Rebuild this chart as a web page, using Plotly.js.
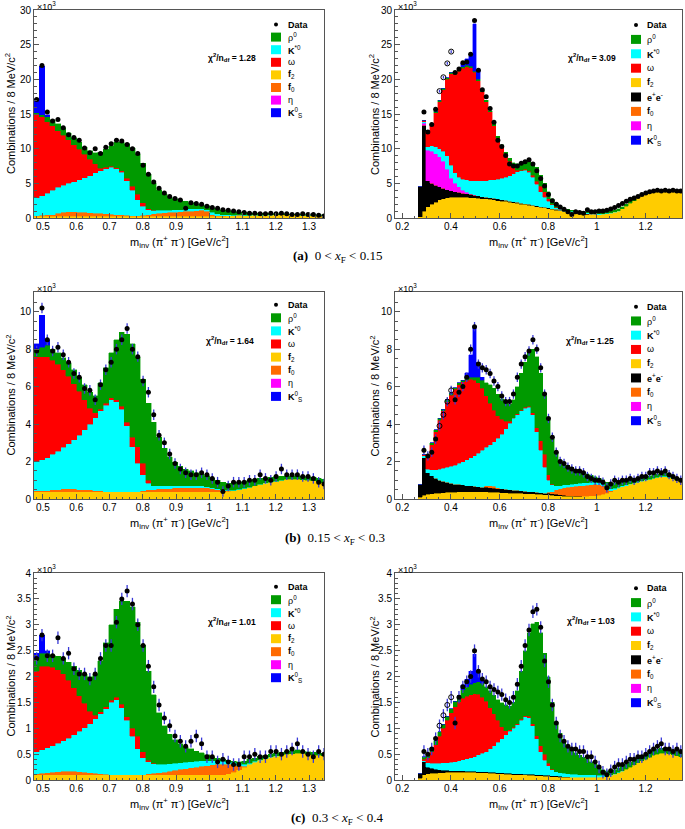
<!DOCTYPE html>
<html><head><meta charset="utf-8">
<script src="https://cdn.plot.ly/plotly-3.0.1.min.js"></script>
<style>html,body{margin:0;padding:0;background:#fff}</style>
</head><body><div id="chart" style="width:685px;height:829px"></div>
<script>
// ---------- binning (8 MeV histograms shown with 16 MeV sampling) ----------
const BIN = 0.016;
const X0_LEFT = 0.481, N_LEFT = 55;
const X0_RIGHT = 0.273, N_RIGHT = 68;
const R_OPEN_X = [0.353, 0.369, 0.385, 0.401];

// ---------- (a) 0 < xF < 0.15, left ----------
const aL_data = [17.1,22.0,15.3,14.0,14.2,13.0,12.0,11.6,11.2,10.1,9.4,10.0,9.3,10.2,10.7,11.2,11.1,10.6,10.0,9.3,7.6,6.3,5.2,4.3,3.6,3.1,2.8,2.6,1.4,2.2,2.1,2.0,1.7,1.5,1.4,1.2,1.1,1.0,0.9,0.8,0.7,0.7,0.6,0.6,0.7,0.6,0.7,0.6,0.5,0.5,0.6,0.5,0.5,0.4,0.3];
const aL_f2 = [0.25,0.25,0.25,0.25,0.25,0.25,0.25,0.25,0.25,0.25,0.25,0.25,0.25,0.25,0.25,0.25,0.25,0.25,0.25,0.25,0.25,0.25,0.25,0.25,0.25,0.25,0.25,0.25,0.25,0.25,0.25,0.25,0.25,0.25,0.25,0.25,0.3,0.3,0.35,0.35,0.38,0.4,0.4,0.42,0.42,0.44,0.44,0.44,0.44,0.44,0.42,0.42,0.4,0.4,0.38];
const aL_f0 = [0.1,0.15,0.2,0.25,0.45,0.6,0.65,0.65,0.6,0.55,0.5,0.45,0.4,0.35,0.3,0.25,0.2,0.15,0.1,0.1,0.15,0.25,0.35,0.45,0.5,0.55,0.6,0.65,0.7,0.75,0.8,0.85,0.75,0.25,0.1,0.05,0.03,0.02,0.02,0.01];
const aL_kstar = [2.55,2.8,3.15,3.5,3.7,3.85,4.1,4.3,4.65,5.0,5.35,5.8,6.15,6.5,6.75,6.6,6.15,5.0,3.65,2.25,1.3,0.7,0.5,0.4,0.35,0.35,0.35,0.3,0.3,0.3,0.25,0.2,0.2,0.3,0.25,0.2,0.12,0.1,0.08,0.06,0.05,0.04,0.03,0.03,0.02,0.02,0.02,0.02,0.01,0.01,0.01,0.01,0.01,0.01,0.01];
const aL_omega = [12.1,11.4,10.3,9.3,8.2,7.2,6.3,5.4,4.4,3.4,2.4,1.3,0.4,0.2,0.15,0.15,0.2,0.3,0.6,0.8,0.5,0.15,0.05];
const aL_rho = [0.2,0.3,0.7,0.9,1.0,1.1,1.0,1.0,1.0,1.0,1.2,1.6,2.3,2.6,2.95,3.65,4.2,5.0,5.5,5.8,5.7,5.05,3.95,3.0,2.4,1.95,1.6,1.4,1.15,0.9,0.7,0.6,0.55,0.7,0.7,0.65,0.6,0.53,0.4,0.38,0.32,0.26,0.22,0.2,0.21,0.14,0.14,0.14,0.1,0.1,0.12,0.07,0.09,0.09,0.06];
const aL_ks = [2.0,7.0,0.3];

// ---------- (a) right ----------
const aR_data = [null,15.3,12.4,13.5,15.7,null,null,null,null,21.0,21.5,22.4,22.5,23.6,28.5,21.3,18.5,17.5,15.8,13.8,11.2,10.3,9.0,7.8,7.5,7.5,7.9,8.1,8.4,7.8,6.8,5.7,4.6,3.4,2.5,2.0,1.6,1.25,0.9,0.5,0.9,0.8,0.7,1.2,0.9,0.9,1.0,1.0,1.1,1.3,1.5,1.8,2.1,2.4,2.7,2.9,3.1,3.4,3.6,3.8,3.9,4.0,3.9,4.0,3.9,4.0,3.9,3.9];
const aR_open = [18.3,20.3,22.3,24.0];
const aR_f2 = [0.2,1.0,1.6,2.0,2.3,2.6,2.8,2.9,3.0,3.0,3.0,3.0,3.0,2.95,2.9,2.85,2.8,2.75,2.7,2.6,2.5,2.45,2.4,2.3,2.2,2.1,2.0,1.95,1.85,1.75,1.65,1.55,1.45,1.35,1.25,1.15,1.05,0.95,0.85,0.75,0.65,0.6,0.55,0.5,0.5,0.5,0.5,0.55,0.6,0.7,0.85,1.0,1.3,1.7,2.1,2.5,2.9,3.2,3.5,3.7,3.9,4.0,4.0,3.9,3.9,3.9,3.9,3.9];
const aR_ee = [4.3,12.4,3.8,3.0,2.4,1.9,1.5,1.2,0.9,0.8,0.7,0.6,0.5,0.45,0.4,0.35,0.3,0.25,0.25,0.25,0.25,0.2,0.15,0.15,0.15,0.15,0.15,0.1,0.1,0.1,0.1,0.1,0.1,0.1,0.1,0.1,0.1,0.05,0.05,0.05,0.05,0.05,0.05,0.05];
const aR_f0 = [0,0,0,0,0,0,0,0,0,0,0,0,0,0,0,0,0,0,0,0,0,0,0,0,0,0,0,0,0,0,0,0,0,0,0,0,0,0,0.03,0.05,0.05,0.05,0.05,0.05,0.04,0.03];
const aR_eta = [0,0.3,4.4,4.6,4.6,4.3,3.9,2.9,1.8,1.2,0.8,0.4,0.2,0.1,0.05];
const aR_kstar = [0,0.2,0.5,0.8,1.0,1.2,1.4,2.0,1.9,1.5,1.4,1.6,1.8,1.9,2.05,2.2,2.3,2.4,2.55,2.65,2.85,3.05,3.35,3.65,4.05,4.45,4.65,4.85,4.65,4.05,3.15,2.15,1.45,0.95,0.55,0.25,0.1,0.1,0.1,0.1,0.1,0.15,0.15,0.15,0.15,0.1,0.1,0.05,0.05,0.05,0.05,0.05];
const aR_omega = [0,0.2,2.1,3.0,4.9,6.8,8.9,11.0,13.2,14.2,15.3,16.0,16.3,16.3,15.6,14.4,12.8,11.4,9.8,7.8,6.0,4.7,3.3,2.1,1.0,0.2,0.1,0.1,0.2,0.3,0.4,0.8,0.8,0.4,0.1,0.05,0.05];
const aR_rho = [0,0,0.2,0.2,0.2,0.2,0.2,0.2,0.2,0.2,0.2,0.2,0.2,0.2,0.2,0.2,0.2,0.2,0.2,0.2,0.2,0.2,0.3,0.4,0.6,0.9,1.0,1.1,1.4,1.8,2.0,1.6,1.2,1.0,0.8,0.65,0.4,0.3,0.2,0.15,0.1,0.1,0.1,0.15,0.15,0.2,0.2,0.25,0.25,0.25,0.25,0.25,0.3,0.3,0.3,0.3,0.2,0.2,0.1,0.1,0.1,0.1,0.1,0.1,0.1,0.1,0.1,0.1];
const aR_ks = [0,0,0,0,0,0,0,0,0,0,0,0.6,1.0,1.5,6.8,1.4,0.1];

// ---------- (b) 0.15 < xF < 0.3, left ----------
const bL_data = [7.9,10.2,8.5,7.9,8.1,7.7,7.3,6.7,6.5,5.9,5.8,5.3,6.1,6.9,7.3,8.0,8.5,9.1,8.0,7.6,6.3,5.7,4.5,3.4,3.0,2.4,1.9,1.6,1.4,1.3,1.3,1.4,1.3,1.1,0.9,0.4,0.7,0.9,0.9,0.9,1.0,1.0,1.3,1.1,1.0,1.2,1.6,1.3,1.3,1.3,1.2,1.2,1.1,0.9,0.8];
const bL_f2 = [0.4,0.4,0.4,0.4,0.4,0.4,0.4,0.4,0.4,0.4,0.4,0.4,0.4,0.4,0.4,0.4,0.4,0.4,0.4,0.4,0.4,0.4,0.4,0.4,0.4,0.4,0.4,0.4,0.4,0.4,0.4,0.4,0.4,0.4,0.4,0.4,0.42,0.45,0.5,0.55,0.62,0.7,0.78,0.85,0.9,0.95,1.0,1.05,1.05,1.05,1.03,1.0,0.97,0.92,0.88];
const bL_f0 = [0.05,0.05,0.05,0.1,0.1,0.15,0.15,0.15,0.1,0.1,0.1,0.05,0.05,0,0,0,0,0,0,0,0.05,0.1,0.1,0.15,0.15,0.15,0.2,0.2,0.2,0.2,0.2,0.2,0.2,0.15,0.1,0.05,0.02];
const bL_kstar = [1.55,1.65,1.75,1.9,2.05,2.2,2.4,2.6,2.9,3.2,3.5,3.9,4.25,4.6,4.9,4.8,4.4,3.5,2.4,1.5,0.85,0.35,0.2,0.15,0.15,0.15,0.1,0.1,0.1,0.1,0.1,0.1,0.05,0.05,0.05,0.05,0.03,0.03,0.02,0.02,0.02,0.02,0.01,0.01,0.01,0.01,0.01];
const bL_omega = [5.6,5.5,5.4,5.0,4.65,4.15,3.6,3.0,2.35,1.6,0.85,0.25,0.1,0.1,0.1,0.1,0.15,0.2,0.5,0.9,0.6,0.15,0.02];
const bL_rho = [0.4,0.5,0.6,0.6,0.6,0.65,0.7,0.75,0.75,0.8,0.85,0.9,1.4,1.9,2.4,3.2,3.95,4.7,5.0,4.8,4.5,4.1,3.38,2.6,2.0,1.55,1.25,1.05,0.9,0.8,0.7,0.65,0.6,0.5,0.45,0.4,0.38,0.37,0.38,0.38,0.36,0.33,0.31,0.26,0.24,0.24,0.21,0.2,0.2,0.2,0.19,0.2,0.18,0.18,0.17];
const bL_ks = [0.3,1.7,0.3];

// ---------- (b) right ----------
const bR_data = [null,2.6,2.3,2.5,3.2,null,null,null,null,5.3,5.7,6.0,6.5,8.0,9.2,7.2,7.0,6.9,6.7,6.3,6.0,5.5,5.2,5.2,5.6,6.5,7.2,7.6,7.9,8.5,8.0,7.0,5.6,4.3,3.3,2.5,2.0,1.9,1.7,1.6,1.5,1.5,1.4,1.2,1.1,1.0,1.0,0.9,0.6,0.8,1.0,0.9,1.0,1.0,1.1,1.0,1.1,1.2,1.2,1.4,1.4,1.5,1.4,1.5,1.3,1.2,1.1,1.0];
const bR_open = [3.9,4.5,5.2,5.8];
const bR_f2 = [0.1,0.2,0.25,0.28,0.3,0.32,0.33,0.35,0.35,0.37,0.38,0.4,0.4,0.4,0.4,0.4,0.4,0.38,0.37,0.36,0.35,0.34,0.33,0.32,0.31,0.3,0.3,0.29,0.28,0.27,0.26,0.25,0.24,0.22,0.2,0.18,0.17,0.16,0.15,0.15,0.15,0.15,0.15,0.16,0.17,0.18,0.2,0.25,0.32,0.4,0.5,0.58,0.65,0.72,0.78,0.84,0.9,0.95,1.0,1.05,1.1,1.15,1.2,1.2,1.15,1.08,1.0,0.92];
const bR_ee = [0.7,2.0,1.15,0.97,0.8,0.68,0.62,0.55,0.5,0.43,0.4,0.35,0.32,0.3,0.28,0.26,0.24,0.24,0.23,0.22,0.21,0.2,0.19,0.18,0.17,0.16,0.14,0.13,0.12,0.11,0.1,0.09,0.08,0.08,0.08,0.07,0.05,0.04,0.03,0.02,0.01,0.01];
const bR_f0 = [0,0,0,0,0,0,0,0,0,0,0,0,0,0,0,0,0,0.08,0.12,0.1,0.04,0,0,0,0,0,0,0,0,0,0,0,0,0.05,0.12,0.25,0.33,0.4,0.44,0.48,0.52,0.54,0.57,0.58,0.6,0.6,0.56,0.45,0.23,0.05];
const bR_eta = [];
const bR_kstar = [0,0.1,0.2,0.3,0.45,0.6,0.7,0.8,0.9,1.0,1.12,1.25,1.38,1.5,1.62,1.79,1.96,2.05,2.18,2.37,2.65,2.91,3.23,3.55,3.82,4.04,4.26,4.43,4.5,4.12,3.24,2.26,1.38,0.65,0.35,0.2,0.17,0.15,0.15,0.15,0.14,0.14,0.14,0.14,0.13,0.12,0.12,0.1,0.1,0.1,0.08,0.06,0.05,0.04,0.03,0.03,0.02,0.02,0.02,0.01,0.01,0.01,0.01,0.01,0.01];
const bR_omega = [0,0.1,0.6,1.35,2.05,2.6,3.05,3.5,3.8,4.05,4.2,4.25,4.25,4.2,4.05,3.75,3.3,2.75,2.2,1.7,1.2,0.8,0.4,0.1,0.05,0.05,0.05,0.05,0.05,0.1,0.2,0.5,0.7,0.3,0.05];
const bR_rho = [0,0,0.1,0.1,0.1,0.1,0.1,0.1,0.1,0.1,0.1,0.1,0.1,0.1,0.15,0.3,0.45,0.7,1.0,1.15,1.15,1.1,1.0,0.9,0.95,1.45,1.95,2.4,2.85,3.4,3.8,3.6,3.1,2.9,2.4,1.8,1.38,1.2,1.03,0.9,0.78,0.66,0.56,0.47,0.37,0.3,0.24,0.22,0.25,0.3,0.3,0.31,0.3,0.27,0.25,0.23,0.2,0.19,0.18,0.19,0.19,0.19,0.17,0.17,0.16,0.16,0.15,0.15];
const bR_ks = [0,0,0,0,0,0,0,0,0,0,0,0,0.3,1.2,2.7,0.8,0.15];

// ---------- (c) 0.3 < xF < 0.4, left ----------
const cL_data = [2.35,2.8,2.4,2.4,2.75,2.35,2.45,2.15,2.05,2.05,1.95,2.05,2.35,2.6,2.6,3.05,3.5,3.65,3.4,3.0,2.6,2.2,1.8,1.45,1.2,1.05,0.85,0.75,0.65,0.75,0.85,0.7,0.45,0.45,0.35,0.4,0.35,0.3,0.3,0.45,0.45,0.5,0.45,0.45,0.55,0.55,0.5,0.55,0.6,0.7,0.55,0.5,0.45,0.55,0.5];
const cL_f2 = [0.1,0.1,0.1,0.1,0.1,0.1,0.1,0.1,0.1,0.1,0.1,0.1,0.1,0.1,0.1,0.1,0.1,0.1,0.1,0.1,0.1,0.1,0.1,0.1,0.1,0.1,0.1,0.1,0.1,0.1,0.1,0.1,0.1,0.1,0.1,0.1,0.12,0.15,0.2,0.25,0.3,0.34,0.38,0.41,0.44,0.46,0.48,0.5,0.51,0.52,0.52,0.5,0.49,0.48,0.47];
const cL_f0 = [0.02,0.03,0.04,0.05,0.06,0.07,0.07,0.07,0.06,0.05,0.04,0.03,0.02,0.01,0,0,0,0,0,0,0,0.02,0.03,0.04,0.05,0.07,0.09,0.11,0.12,0.14,0.15,0.17,0.18,0.19,0.2,0.2,0.18,0.15,0.08,0.02];
const cL_kstar = [0.43,0.45,0.48,0.51,0.55,0.59,0.64,0.7,0.78,0.86,0.95,1.05,1.16,1.27,1.4,1.45,1.3,1.05,0.75,0.5,0.33,0.23,0.18,0.16,0.15,0.14,0.13,0.12,0.12,0.11,0.11,0.1,0.09,0.08,0.07,0.06,0.05,0.04,0.04,0.03,0.02,0.02,0.01,0.01,0.01,0.01,0.01];
const cL_omega = [1.55,1.62,1.58,1.52,1.42,1.29,1.12,0.91,0.69,0.47,0.24,0.07,0.04,0.04,0.04,0.05,0.06,0.07,0.15,0.25,0.12,0.03,0.01];
const cL_rho = [0.25,0.25,0.25,0.24,0.26,0.3,0.35,0.42,0.49,0.57,0.67,0.8,0.98,1.23,1.46,1.7,1.99,2.23,2.35,2.2,2.05,1.72,1.33,1.0,0.75,0.57,0.46,0.37,0.3,0.25,0.2,0.16,0.12,0.08,0.05,0.04,0.03,0.02,0.03,0.06,0.08,0.06,0.07,0.06,0.05,0.05,0.05,0.06,0.06,0.06,0.05,0.05,0.05,0.05,0.05];
const cL_ks = [0.1,0.35,0.05];

// ---------- (c) right ----------
const cR_data = [null,0.55,0.5,0.6,0.8,null,null,null,null,1.1,1.6,1.8,1.9,2.0,2.5,2.1,1.95,1.9,1.8,1.75,1.7,1.65,1.55,1.5,1.6,1.85,2.2,2.6,2.9,3.25,3.3,2.95,2.3,1.9,1.45,1.1,0.85,0.75,0.65,0.6,0.6,0.55,0.55,0.45,0.45,0.35,0.25,0.15,0.1,0.18,0.25,0.3,0.3,0.35,0.4,0.4,0.45,0.45,0.5,0.55,0.6,0.65,0.7,0.6,0.6,0.55,0.6,0.55];
const cR_open = [1.05,1.25,1.45,1.6];
const cR_f2 = [0.03,0.1,0.12,0.13,0.13,0.14,0.14,0.15,0.15,0.15,0.15,0.15,0.15,0.15,0.15,0.14,0.14,0.14,0.13,0.13,0.12,0.12,0.11,0.11,0.1,0.1,0.1,0.1,0.09,0.09,0.08,0.08,0.07,0.07,0.06,0.06,0.05,0.05,0.05,0.05,0.05,0.05,0.05,0.05,0.05,0.05,0.05,0.06,0.07,0.09,0.11,0.14,0.17,0.21,0.25,0.29,0.33,0.37,0.4,0.44,0.48,0.5,0.52,0.52,0.51,0.49,0.47,0.45];
const cR_ee = [0.1,0.25,0.13,0.1,0.08,0.06,0.05,0.04,0.03,0.03,0.03,0.03,0.02,0.02,0.02,0.02,0.02,0.02,0.02,0.02,0.02,0.02,0.02,0.02,0.02,0.02,0.02,0.01,0.02,0.02,0.02,0.02,0.02,0.02,0.02,0.02,0.02,0.01,0.01];
const cR_f0 = [];
const cR_eta = [];
const cR_kstar = [0,0.02,0.08,0.09,0.11,0.12,0.14,0.14,0.16,0.17,0.19,0.21,0.24,0.26,0.28,0.33,0.36,0.39,0.45,0.51,0.59,0.66,0.74,0.81,0.88,0.95,1.03,1.11,1.09,0.94,0.7,0.45,0.29,0.19,0.12,0.08,0.07,0.07,0.06,0.06,0.06,0.05,0.05,0.05,0.05,0.05,0.04,0.03,0.02,0.01,0.01,0.01,0.01];
const cR_omega = [0,0.03,0.1,0.23,0.36,0.53,0.67,0.82,0.96,1.07,1.14,1.19,1.21,1.22,1.22,1.17,1.08,0.97,0.8,0.62,0.42,0.23,0.08,0.03,0.02,0.02,0.02,0.02,0.03,0.04,0.06,0.11,0.12,0.04,0.01];
const cR_rho = [0,0.05,0.07,0.07,0.08,0.08,0.08,0.08,0.08,0.1,0.13,0.16,0.18,0.2,0.21,0.24,0.27,0.28,0.32,0.36,0.4,0.46,0.5,0.46,0.48,0.63,0.93,1.26,1.62,1.93,2.19,2.19,1.95,1.68,1.29,0.96,0.76,0.62,0.53,0.47,0.42,0.38,0.34,0.3,0.25,0.2,0.16,0.11,0.09,0.08,0.08,0.09,0.09,0.09,0.09,0.09,0.09,0.09,0.09,0.09,0.09,0.09,0.09,0.09,0.09,0.09,0.09,0.09];
const cR_ks = [0,0,0,0,0,0,0,0,0,0,0,0.1,0.15,0.25,0.55,0.2,0.05];

const chiValues = ['1.28','3.09','1.64','1.25','1.01','1.03'];
const captions = [
  '<b>(a)</b>  0 &lt; <i>x</i><sub>F</sub> &lt; 0.15',
  '<b>(b)</b>  0.15 &lt; <i>x</i><sub>F</sub> &lt; 0.3',
  '<b>(c)</b>  0.3 &lt; <i>x</i><sub>F</sub> &lt; 0.4'
];

// ---------- styling ----------
const W = 685, H = 829;
const FONT = 'Liberation Sans, Arial, sans-serif';
const COLORS = {f2:'#ffcc00', ee:'#000000', f0:'#ff6a00', eta:'#ff00ff', kstar:'#00ffff', omega:'#ff0000', rho:'#009a00', ks:'#0000ff'};
const LABELS = {rho:'ρ<sup>0</sup>', kstar:'<b>K</b><sup>*0</sup>', omega:'ω', f2:'<b>f</b><sub>2</sub>', ee:'<b>e</b><sup>+</sup><b>e</b><sup>-</sup>', f0:'<b>f</b><sub>0</sub>', eta:'η', ks:'<b>K</b><sup>0</sup><sub>S</sub>'};
const STACK = ['f2','ee','f0','eta','kstar','omega','rho','ks'];
const LEG_L = ['rho','kstar','omega','f2','f0','eta','ks'];
const LEG_R = ['rho','kstar','omega','f2','ee','f0','eta','ks'];

const panels = [
  {side:'L', box:[34,324,10,218], yr:[0,30], ydt:5, ymn:1, err:0.15, leg:[24.5,12.6], chi:[232,58],
   data:aL_data, comps:{f2:aL_f2,f0:aL_f0,kstar:aL_kstar,omega:aL_omega,rho:aL_rho,ks:aL_ks}},
  {side:'R', box:[395,682,10,218], yr:[0,30], ydt:5, ymn:1, err:0.2, leg:[25,14.4], chi:[592,58],
   data:aR_data, open:aR_open, comps:{f2:aR_f2,ee:aR_ee,f0:aR_f0,eta:aR_eta,kstar:aR_kstar,omega:aR_omega,rho:aR_rho,ks:aR_ks}},
  {side:'L', box:[34,324,292,499], yr:[0,11.05], ydt:2, ymn:0.5, err:0.28, leg:[304.7,13.1], chi:[230,341],
   data:bL_data, comps:{f2:bL_f2,f0:bL_f0,kstar:bL_kstar,omega:bL_omega,rho:bL_rho,ks:bL_ks}},
  {side:'R', box:[395,682,292,499], yr:[0,11.05], ydt:2, ymn:0.5, err:0.25, leg:[306.7,14.25], chi:[590,340],
   data:bR_data, open:bR_open, comps:{f2:bR_f2,ee:bR_ee,f0:bR_f0,eta:bR_eta,kstar:bR_kstar,omega:bR_omega,rho:bR_rho,ks:bR_ks}},
  {side:'L', box:[34,324,573,780], yr:[0,4], ydt:0.5, ymn:0.1, err:0.12, leg:[586.7,13.0], chi:[232,621],
   data:cL_data, comps:{f2:cL_f2,f0:cL_f0,kstar:cL_kstar,omega:cL_omega,rho:cL_rho,ks:cL_ks}},
  {side:'R', box:[395,682,573,780], yr:[0,4], ydt:0.5, ymn:0.1, err:0.12, leg:[588.3,14.3], chi:[591,620],
   data:cR_data, open:cR_open, comps:{f2:cR_f2,ee:cR_ee,f0:cR_f0,eta:cR_eta,kstar:cR_kstar,omega:cR_omega,rho:cR_rho,ks:cR_ks}}
];

function binCenters(x0, n) { const a = []; for (let i = 0; i < n; i++) a.push(+(x0 + i * BIN).toFixed(3)); return a; }
const px = p => p / W, py = p => 1 - p / H;

const traces = [], annotations = [], shapes = [];
const layout = {
  width: W, height: H, margin: {l:0, r:0, t:0, b:0}, paper_bgcolor:'#fff', plot_bgcolor:'#fff',
  barmode:'stack', bargap:0, showlegend:false, hovermode:false,
  font:{family:FONT, color:'#000'}
};
function note(xp, yp, text, size, extra) {
  annotations.push(Object.assign({xref:'paper', yref:'paper', x: px(xp), y: py(yp), text: text, showarrow:false,
    xanchor:'center', yanchor:'middle', font:{size:size, family:FONT, color:'#000'}}, extra || {}));
}

panels.forEach((p, idx) => {
  const i = idx + 1, sfx = i === 1 ? '' : String(i);
  const xa = 'x' + sfx, ya = 'y' + sfx;
  const [l, r, t, b] = p.box;
  const isL = p.side === 'L';
  const xs = isL ? binCenters(X0_LEFT, N_LEFT) : binCenters(X0_RIGHT, N_RIGHT);

  STACK.forEach(k => {
    const v = p.comps[k];
    if (!v || !v.length) return;
    traces.push({type:'bar', x: xs.slice(0, v.length), y: v, width: BIN, xaxis: xa, yaxis: ya,
      marker:{color: COLORS[k], line:{width:0.4, color: COLORS[k]}}, hoverinfo:'skip'});
  });
  const eb = {type:'constant', value:p.err, color:'#3a3ad8', thickness:1.3, width:0};
  traces.push({type:'scatter', mode:'markers', x: xs, y: p.data, xaxis: xa, yaxis: ya,
    marker:{size:5, color:'#000'}, error_y: eb});
  if (p.open) traces.push({type:'scatter', mode:'markers', x: R_OPEN_X, y: p.open, xaxis: xa, yaxis: ya,
    marker:{size:5, color:'#000', symbol:'circle-open', line:{width:1}}, error_y: eb});

  const axCommon = {showline:true, mirror:true, linecolor:'#555', linewidth:1, ticks:'inside', ticklen:5,
    tickcolor:'#555', showgrid:false, zeroline:false, fixedrange:true,
    tickfont:{family:FONT, size:10, color:'#000'}};
  layout['xaxis' + sfx] = Object.assign({}, axCommon, {
    domain:[px(l), px(r)], anchor: ya,
    range: isL ? [0.473, 1.345] : [0.17, 1.35],
    tick0:0, dtick: isL ? 0.1 : 0.2, ticklabelstandoff: -1,
    minor:{ticks:'inside', ticklen:2.5, tickcolor:'#555', dtick: isL ? 0.02 : 0.05}
  });
  layout['yaxis' + sfx] = Object.assign({}, axCommon, {
    domain:[py(b), py(t)], anchor: xa, range: p.yr, tick0:0, dtick: p.ydt,
    minor:{ticks:'inside', ticklen:2.5, tickcolor:'#555', dtick: p.ymn}
  });

  // axis titles and exponent
  note(isL ? 10 : 374, (t + b) / 2, 'Combinations / 8 MeV/c<sup>2</sup>', 11, {textangle:-90});
  note((l + r) / 2, b + 24, 'm<sub>inv</sub> (π<sup>+</sup> π<sup>-</sup>) [GeV/c<sup>2</sup>]', 11);
  note(l + 1, t - 4, '×10<sup>3</sup>', 9, {xanchor:'left'});
  note(p.chi[0], p.chi[1], '<b>χ<sup>2</sup>/n<sub>df</sub> = ' + chiValues[idx] + '</b>', 8.5);

  // legend
  const bx0 = isL ? 271 : 631, tx = isL ? 286 : 645;
  const [y0, dy] = p.leg;
  shapes.push({type:'circle', xref:'paper', yref:'paper', x0: px(bx0 + 3), x1: px(bx0 + 7), y0: py(y0 + 2), y1: py(y0 - 2),
    fillcolor:'#000', line:{width:0}});
  note(tx, y0, '<b>Data</b>', 9, {xanchor:'left'});
  (isL ? LEG_L : LEG_R).forEach((k, j) => {
    const yc = y0 + dy * (j + 1);
    shapes.push({type:'rect', xref:'paper', yref:'paper', x0: px(bx0), x1: px(bx0 + 10), y0: py(yc + 4.5), y1: py(yc - 4.5),
      fillcolor: COLORS[k], line:{width:0}});
    note(tx, yc, LABELS[k], 9, {xanchor:'left'});
  });
});

// captions
[[337, 256], [335, 538], [337, 818]].forEach((c, j) => {
  note(c[0], c[1], captions[j], 13, {font:{size:13, family:'Liberation Serif, DejaVu Serif, serif', color:'#000'}});
});

layout.annotations = annotations;
layout.shapes = shapes;
Plotly.newPlot('chart', traces, layout, {staticPlot:true, displayModeBar:false});
</script>
</body></html>
